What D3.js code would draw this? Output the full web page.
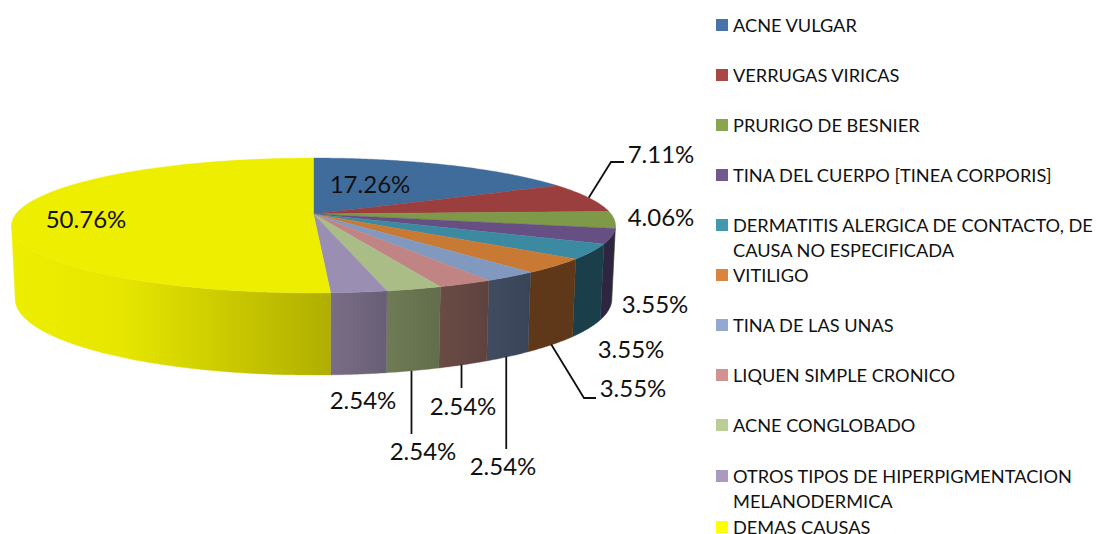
<!DOCTYPE html>
<html><head><meta charset="utf-8">
<script src="https://cdn.jsdelivr.net/npm/d3@7"></script>
<style>html,body{margin:0;padding:0;background:#fff}svg{display:block}text{font-family:Lato,"Noto Sans",sans-serif;fill:#111}</style>
</head><body><svg id="c" width="1097" height="534"></svg>
<script>
// ---- data ----
const categories = ["ACNE VULGAR","VERRUGAS VIRICAS","PRURIGO DE BESNIER","TINA DEL CUERPO [TINEA CORPORIS]","DERMATITIS ALERGICA DE CONTACTO, DE CAUSA NO ESPECIFICADA","VITILIGO","TINA DE LAS UNAS","LIQUEN SIMPLE CRONICO","ACNE CONGLOBADO","OTROS TIPOS DE HIPERPIGMENTACION MELANODERMICA","DEMAS CAUSAS"];
const values = [17.26,7.11,4.06,3.55,3.55,3.55,2.54,2.54,2.54,2.54,50.76];
// ---- styles ----
const legendColors = ["#4674A8","#AA4643","#89A54E","#71588F","#4198AF","#DB843D","#93A9CF","#D19392","#B9CD96","#A99BBD","#FFFF00"];
const topColors = ["#406C9C","#9A3F3E","#7E9A48","#664F82","#3C8AA2","#C87A35","#8299BF","#BF8483","#ABBD87","#9A8FB3","#EEEE00"];
const wallLeft  = ["#406C9C","#9A3F3E","#7E9A48","#2E2540","#1A3E4A","#5E3819","#414C60","#6A4B46","#6E7B55","#7A6E87","#EEEE00"];
const wallRight = ["#406C9C","#9A3F3E","#7E9A48","#2E2540","#1A3E4A","#5E3819","#3A4458","#5E423E","#626E4B","#675E74","#B0AE00"];
const legendLines = [["ACNE VULGAR"],["VERRUGAS VIRICAS"],["PRURIGO DE BESNIER"],["TINA DEL CUERPO [TINEA CORPORIS]"],["DERMATITIS ALERGICA DE CONTACTO, DE","CAUSA NO ESPECIFICADA"],["VITILIGO"],["TINA DE LAS UNAS"],["LIQUEN SIMPLE CRONICO"],["ACNE CONGLOBADO"],["OTROS TIPOS DE HIPERPIGMENTACION","MELANODERMICA"],["DEMAS CAUSAS"]];
const legendY = [25,75,125,175,225,275,325,375,425,476,527];
const labelPos = [[370,185],[661,155],[661,218],[655,305],[631,350],[633,389],[503,467],[463,407],[423,452],[363,401],[86,220]];
// leader: [edge ("top"/"bottom"), elbow x,y, end x,y, x nudge]
const leaders = {1:["top",[611,162],[624,162],0],5:["bottom",[584,398],[596,398],-1],6:["bottom",null,[null,449],-2],7:["bottom",null,[null,388],-2],8:["bottom",null,[null,434],-1.5]};

const svg = d3.select("#c");
const k = 0.17;
const proj = (t, geom) => { const u=Math.sin(t), v=Math.cos(t), w=1+k*v;
  return [geom.x+geom.b*u/w, geom.y-geom.a*v/w]; };
const topG = {x:313.5,y:214,a:65.5,b:297.6};
const botG = {x:313.5,y:286,a:73.9,b:294};
const pie = d3.pie().sort(null).value(d=>d);
const arcs = pie(values);
const line = d3.line();
const step = Math.PI/360;
const sweep = (a,b) => { const n=Math.max(2,Math.ceil((b-a)/step)); return d3.range(n+1).map(i=>a+(b-a)*i/n); };
const defs = svg.append("defs");

// side walls
const tL = Math.acos(-k), tR = 2*Math.PI-tL;
arcs.forEach((d,i)=>{
  const a=Math.max(d.startAngle,tL), b=Math.min(d.endAngle,tR);
  if(b<=a) return;
  const ts=sweep(a,b);
  const pts=ts.map(t=>proj(t,topG)).concat(ts.slice().reverse().map(t=>proj(t,botG)));
  const xs=pts.map(p=>p[0]);
  const g=defs.append("linearGradient").attr("id","w"+i).attr("gradientUnits","userSpaceOnUse")
    .attr("x1",d3.min(xs)).attr("x2",d3.max(xs)).attr("y1",0).attr("y2",0);
  g.append("stop").attr("offset",0).attr("stop-color",wallLeft[i]);
  if(i===10) g.append("stop").attr("offset",0.35).attr("stop-color","#E6E600");
  g.append("stop").attr("offset",1).attr("stop-color",wallRight[i]);
  svg.append("path").attr("d",line(pts)+"Z").attr("fill",`url(#w${i})`).attr("stroke",`url(#w${i})`).attr("stroke-width",0.4);
});
// top face
const apex=[topG.x,topG.y];
arcs.forEach((d,i)=>{
  const pts=[apex].concat(sweep(d.startAngle,d.endAngle).map(t=>proj(t,topG)));
  svg.append("path").attr("d",line(pts)+"Z").attr("fill",topColors[i]).attr("stroke",topColors[i]).attr("stroke-width",0.4);
});
// leaders
Object.keys(leaders).forEach(i=>{
  const [edge,elbow,end,nudge]=leaders[i], d=arcs[i], mid=(d.startAngle+d.endAngle)/2;
  const p=proj(mid,edge==="top"?topG:botG), s=[p[0]+nudge,p[1]];
  const pts=[s]; if(elbow) pts.push(elbow);
  pts.push([end[0]===null?s[0]:end[0],end[1]]);
  svg.append("path").attr("d",line(pts)).attr("fill","none").attr("stroke","#111").attr("stroke-width",1.8);
});
// value labels
arcs.forEach((d,i)=>{
  svg.append("text").attr("x",labelPos[i][0]).attr("y",labelPos[i][1]).attr("dy","0.35em")
    .attr("text-anchor","middle").attr("font-size",24).text(d3.format(".2f")(values[i])+"%");
});
// legend
categories.forEach((c,i)=>{
  svg.append("rect").attr("x",716).attr("y",legendY[i]-6).attr("width",12).attr("height",12).attr("fill",legendColors[i]);
  legendLines[i].forEach((l,j)=>{
    svg.append("text").attr("x",733).attr("y",legendY[i]+j*25).attr("dy","0.38em").attr("font-size",18.2).text(l);
  });
});
</script></body></html>
